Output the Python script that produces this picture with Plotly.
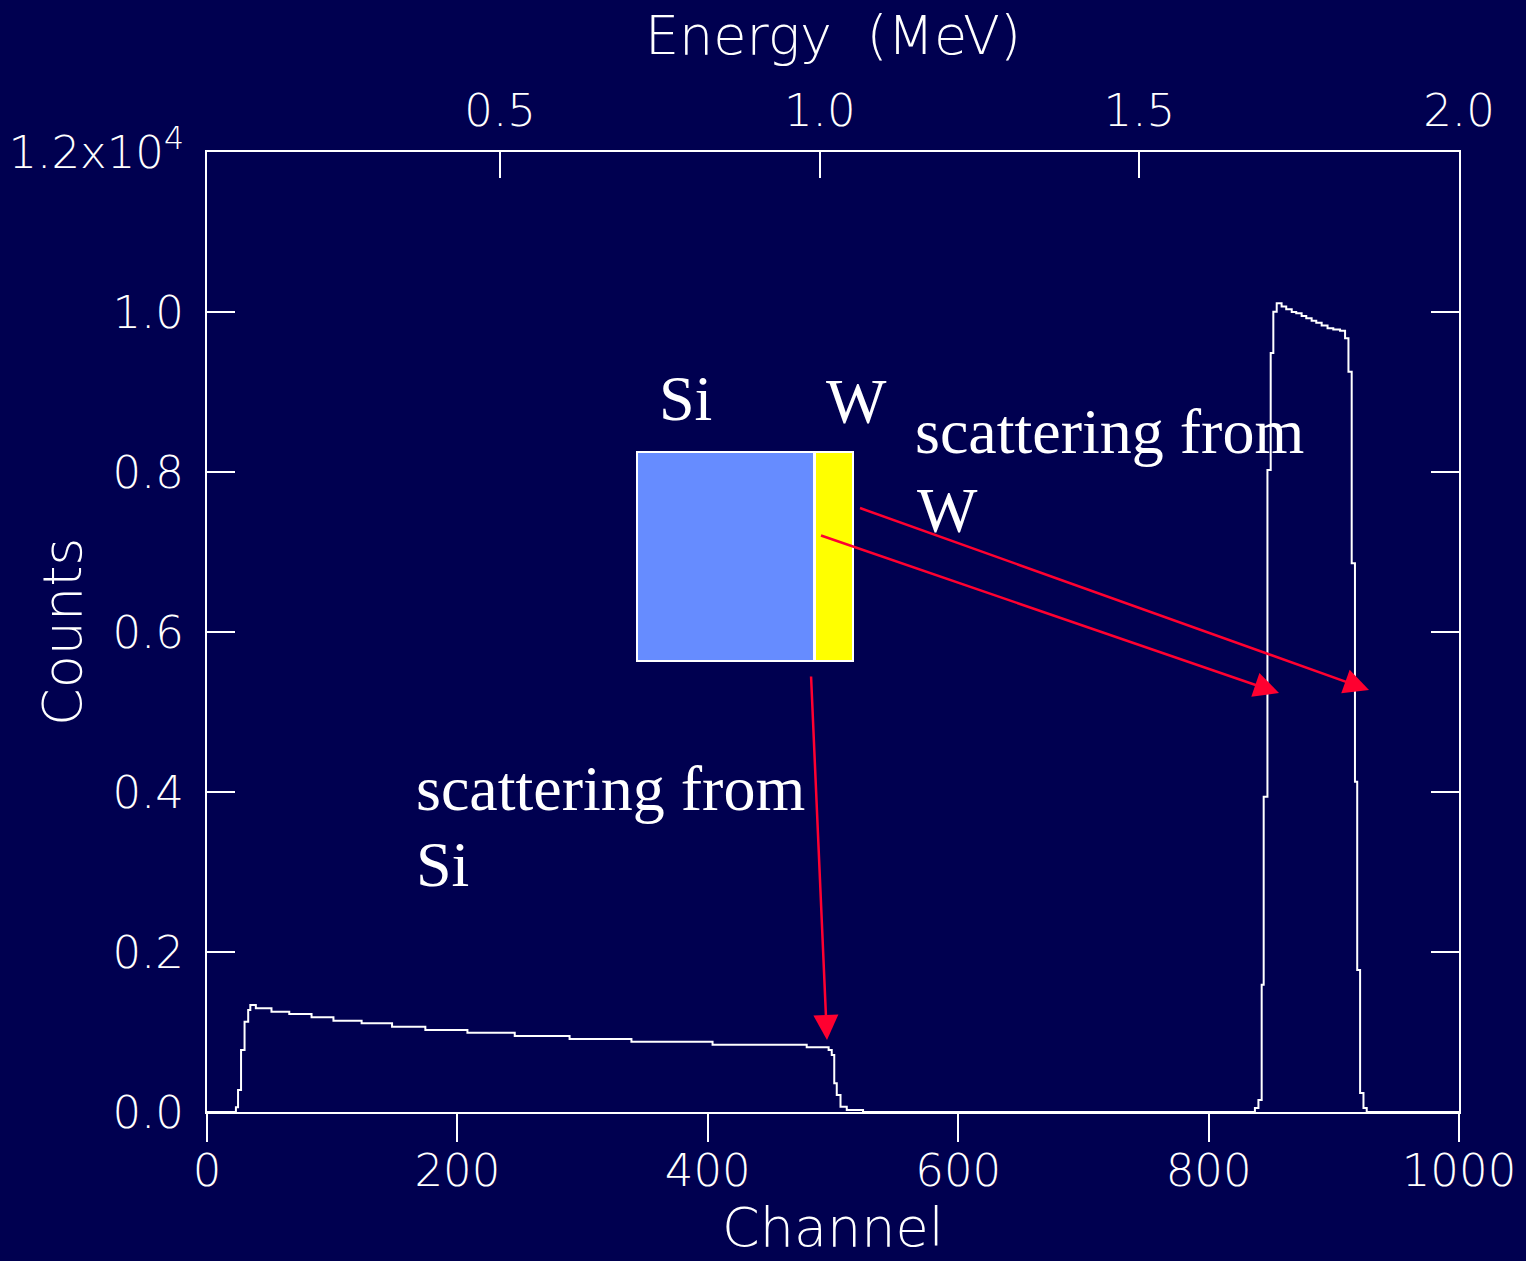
import plotly.graph_objects as go

# ---- data ----
# spectrum drawn as a step line (hv): value holds from channel[i] to channel[i+1]
channel = [0, 23.1, 24.8, 27.2, 30, 32.9, 34.6, 39, 51.5, 65.7, 83.5, 101, 123.5,
           147.8, 174.4, 208, 245.8, 289.6, 339, 403.8, 479, 496.5, 499, 501, 503,
           506, 511, 524,
           837, 839.8, 842.4, 844, 847, 849.6, 851.7, 854.4, 858.3, 862, 866.4, 870,
           874.3, 878, 882.3, 886, 890.3, 895, 899.6, 905, 909, 911.7, 914.3, 916.9,
           918.7, 921, 923.7, 926.3, 1000]
counts = [0, 60, 275, 775, 1129, 1275, 1337, 1296, 1254, 1225, 1183, 1142, 1108,
          1067, 1025, 992, 950, 912, 879, 842, 808, 775, 712, 358, 212,
          67, 25, 0,
          50, 150, 1590, 3940, 8025, 9487, 10004, 10108, 10070, 10033, 10000, 9983,
          9950, 9921, 9890, 9867, 9830, 9796, 9780, 9767, 9671, 9254, 6858, 4129,
          1775, 237, 50, 0, 0]

channel_ticks = [0, 200, 400, 600, 800, 1000]
count_ticks = [0, 2000, 4000, 6000, 8000, 10000, 12000]
count_ticktext = ["0.0", "0.2", "0.4", "0.6", "0.8", "1.0", "1.2x10<sup>4</sup>"]
energy_ticks = [0.5, 1.0, 1.5, 2.0]
energy_ticktext = ["0.5", "1.0", "1.5", "2.0"]
energy_range = [0.0415, 2.0]

BG = "#000050"
RED = "#FF0030"
AXFONT = dict(family="DejaVu Sans", size=45, color="white", weight=200)
TITLEFONT = dict(family="DejaVu Sans", size=54, color="white", weight=200)
SERIF = dict(family="Liberation Serif", size=64, color="white")

# pixel -> paper helpers (plot area 207..1459 x 152..1112)
L, R, T, B = 207, 1459, 152, 1112
def X(px):
    return (px - L) / (R - L)
def Y(py):
    return (B - py) / (B - T)

fig = go.Figure()
fig.add_trace(go.Scatter(x=channel, y=counts, mode="lines", line_shape="hv",
                         line=dict(color="white", width=2), hoverinfo="skip",
                         showlegend=False))
fig.add_trace(go.Scatter(x=energy_range, y=[None, None], xaxis="x2", mode="lines",
                         showlegend=False, hoverinfo="skip"))

fig.update_layout(
    width=1526, height=1261,
    paper_bgcolor=BG, plot_bgcolor=BG,
    margin=dict(l=L, r=1526 - R, t=T, b=1261 - B),
    xaxis=dict(range=[0, 1000], tickvals=channel_ticks, ticks="outside", ticklen=28,
               tickwidth=2, tickcolor="white", showline=True, linecolor="white",
               linewidth=2, mirror=True, showgrid=False, zeroline=False,
               tickfont=AXFONT, automargin=False, ticklabelstandoff=-10),
    xaxis2=dict(range=energy_range, overlaying="x", side="top", tickvals=energy_ticks,
                ticktext=energy_ticktext, ticks="inside", ticklen=26, tickwidth=2,
                tickcolor="white", showline=True, linecolor="white", linewidth=2,
                showgrid=False, zeroline=False, tickfont=AXFONT, automargin=False,
                ticklabelstandoff=6,
                title=dict(text="Energy&nbsp;&nbsp;(MeV)", font=TITLEFONT, standoff=12)),
    yaxis=dict(range=[0, 12000], tickvals=count_ticks, ticktext=count_ticktext,
               ticks="inside", ticklen=28, tickwidth=2, tickcolor="white",
               showline=True, linecolor="white", linewidth=2, mirror="ticks",
               showgrid=False, zeroline=False, tickfont=AXFONT, automargin=False,
               ticklabelstandoff=12),
)

# axis titles placed as text
fig.add_annotation(text="Counts", xref="paper", yref="paper", x=X(62), y=Y(632),
                   xanchor="center", yanchor="middle", textangle=-90,
                   showarrow=False, font=TITLEFONT)
fig.add_annotation(text="Channel", xref="paper", yref="paper", x=X(833), y=Y(1261),
                   xanchor="center", yanchor="bottom", showarrow=False, font=TITLEFONT)

# target sketch: Si block and W layer
fig.add_shape(type="rect", xref="paper", yref="paper", x0=X(637), x1=X(814),
              y0=Y(661), y1=Y(452), fillcolor="#668CFF",
              line=dict(color="white", width=2))
fig.add_shape(type="rect", xref="paper", yref="paper", x0=X(815), x1=X(853),
              y0=Y(661), y1=Y(452), fillcolor="#FFFF00",
              line=dict(color="white", width=2))

def label(text, px, py, xanchor="left"):
    fig.add_annotation(text=text, xref="paper", yref="paper", x=X(px), y=Y(py),
                       xanchor=xanchor, yanchor="middle", showarrow=False, font=SERIF)

label("Si", 685, 398, "center")
label("W", 856, 401, "center")
label("scattering from", 913, 431)
label("W", 915, 511)
label("scattering from", 414, 788)
label("Si", 414, 864)

def arrow(x_tail, y_tail, x_tip, y_tip):
    fig.add_annotation(text="", xref="paper", yref="paper", x=X(x_tip), y=Y(y_tip),
                       ax=x_tail - x_tip, ay=y_tail - y_tip, showarrow=True,
                       arrowhead=2, arrowsize=2.0, arrowwidth=2.5, arrowcolor=RED,
                       standoff=0)

arrow(819.5, 535, 1279, 693)
arrow(858.5, 507.5, 1369, 690)
arrow(811, 675, 827, 1040)

fig.write_html(
    "out.html",
    config={"displayModeBar": False},
    post_script="document.body.style.margin='0';document.body.style.overflow='hidden';"
                "document.body.style.background='" + BG + "';",
)
